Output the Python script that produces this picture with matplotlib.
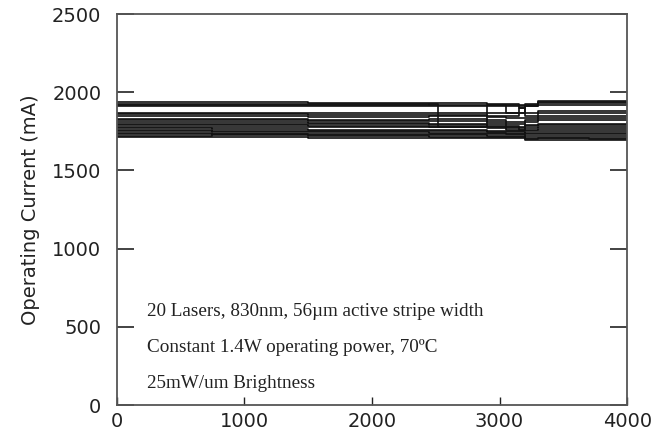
import matplotlib
matplotlib.use("Agg")
import matplotlib.pyplot as plt

# Operating time breakpoints (h) and per-laser operating current (mA)
hours = [0, 750, 1500, 2450, 2520, 2900, 3050, 3150, 3200, 3300, 3700, 4000]
lasers = [
    [1935, 1935, 1930, 1930, 1930, 1925, 1925, 1900, 1925, 1945, 1945, 1945],
    [1925, 1925, 1925, 1920, 1920, 1920, 1915, 1915, 1915, 1935, 1935, 1940],
    [1920, 1918, 1920, 1925, 1780, 1920, 1920, 1920, 1920, 1930, 1930, 1930],
    [1910, 1910, 1910, 1915, 1915, 1910, 1870, 1870, 1910, 1920, 1920, 1925],
    [1870, 1870, 1865, 1870, 1870, 1865, 1865, 1865, 1865, 1880, 1880, 1880],
    [1860, 1858, 1855, 1855, 1855, 1850, 1850, 1900, 1850, 1870, 1870, 1870],
    [1845, 1845, 1840, 1845, 1845, 1840, 1835, 1835, 1835, 1850, 1850, 1855],
    [1830, 1830, 1825, 1830, 1830, 1825, 1780, 1780, 1820, 1835, 1835, 1835],
    [1820, 1820, 1815, 1815, 1815, 1810, 1810, 1810, 1810, 1820, 1820, 1820],
    [1810, 1810, 1805, 1800, 1800, 1795, 1795, 1795, 1790, 1800, 1800, 1805],
    [1800, 1800, 1800, 1790, 1790, 1785, 1785, 1760, 1785, 1790, 1790, 1790],
    [1790, 1790, 1785, 1780, 1780, 1775, 1760, 1760, 1770, 1780, 1780, 1775],
    [1780, 1780, 1775, 1775, 1775, 1770, 1770, 1770, 1760, 1765, 1765, 1765],
    [1770, 1765, 1760, 1760, 1760, 1755, 1755, 1755, 1750, 1750, 1750, 1750],
    [1760, 1755, 1755, 1750, 1750, 1745, 1745, 1745, 1740, 1740, 1740, 1740],
    [1750, 1745, 1745, 1740, 1740, 1740, 1735, 1735, 1730, 1730, 1730, 1730],
    [1740, 1735, 1735, 1735, 1735, 1730, 1730, 1730, 1720, 1720, 1720, 1725],
    [1730, 1725, 1725, 1725, 1725, 1720, 1720, 1720, 1710, 1710, 1710, 1715],
    [1720, 1730, 1720, 1715, 1715, 1715, 1715, 1715, 1700, 1705, 1700, 1700],
    [1715, 1715, 1710, 1710, 1710, 1705, 1705, 1705, 1695, 1695, 1695, 1700],
]
notes = [
    "20 Lasers, 830nm, 56µm active stripe width",
    "Constant 1.4W operating power, 70ºC",
    "25mW/um Brightness",
]
note_y = [600, 370, 140]
x_ticks = [0, 1000, 2000, 3000, 4000]
y_ticks = [0, 500, 1000, 1500, 2000, 2500]

fig = plt.figure(figsize=(6.56, 4.38), dpi=100)
ax = fig.add_axes([0.178, 0.075, 0.778, 0.893])

for vals in lasers:
    ax.plot(hours, vals, drawstyle="steps-post", color="#111111", linewidth=1.2)

for txt, yv in zip(notes, note_y):
    ax.text(240, yv, txt, fontfamily="Liberation Serif", fontsize=13.8,
            color="#222222", va="center", ha="left")

ax.set_xlim(0, 4000)
ax.set_ylim(0, 2500)
ax.set_xticks(x_ticks)
ax.set_yticks(y_ticks)
ax.set_ylabel("Operating Current (mA)", fontfamily="DejaVu Sans",
              fontsize=14, color="#222222", labelpad=9)

for lab in ax.get_xticklabels() + ax.get_yticklabels():
    lab.set_fontfamily("DejaVu Sans")
    lab.set_fontsize(14)
    lab.set_color("#222222")

ax.tick_params(axis="y", direction="in", length=12, width=1.2, pad=11,
               right=True, color="#222222")
ax.tick_params(axis="x", direction="in", length=6, width=1.0, pad=5,
               color="#222222")
for sp in ax.spines.values():
    sp.set_color("#555555")
    sp.set_linewidth(1.3)

fig.savefig("out.png", dpi=100)
